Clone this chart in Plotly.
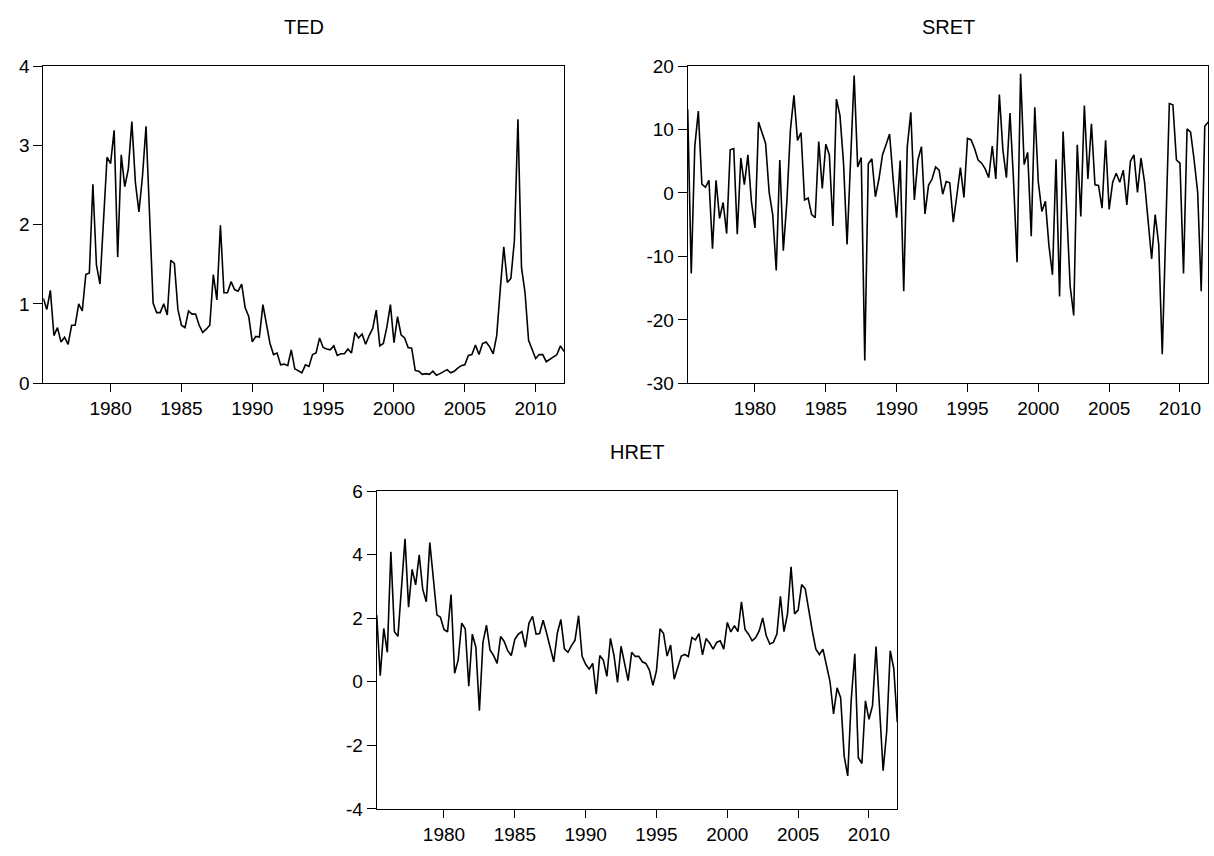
import pandas as pd
import plotly.graph_objects as go

# Quarterly observations 1975Q2 - 2012Q1
start_quarter = "1975Q2"
n_obs = 148

ted = [1.07, 0.93, 1.17, 0.60, 0.70, 0.52, 0.58, 0.49, 0.73, 0.73,
       1.00, 0.91, 1.37, 1.39, 2.51, 1.49, 1.25, 2.05, 2.85, 2.77,
       3.19, 1.59, 2.88, 2.48, 2.70, 3.30, 2.53, 2.16, 2.61, 3.24,
       2.04, 1.01, 0.89, 0.89, 1.00, 0.86, 1.55, 1.51, 0.93, 0.73,
       0.70, 0.91, 0.87, 0.87, 0.73, 0.64, 0.68, 0.73, 1.37, 1.05,
       1.99, 1.14, 1.14, 1.28, 1.18, 1.16, 1.25, 0.95, 0.84, 0.52,
       0.59, 0.58, 0.99, 0.75, 0.50, 0.36, 0.38, 0.23, 0.24, 0.22,
       0.42, 0.18, 0.16, 0.13, 0.23, 0.21, 0.36, 0.38, 0.57, 0.45,
       0.43, 0.42, 0.47, 0.35, 0.37, 0.37, 0.43, 0.38, 0.64, 0.57,
       0.62, 0.49, 0.60, 0.69, 0.92, 0.47, 0.50, 0.71, 0.99, 0.51,
       0.84, 0.61, 0.57, 0.45, 0.44, 0.16, 0.15, 0.11, 0.12, 0.11,
       0.15, 0.10, 0.12, 0.14, 0.17, 0.13, 0.15, 0.19, 0.22, 0.23,
       0.35, 0.36, 0.48, 0.36, 0.50, 0.52, 0.46, 0.37, 0.60, 1.18,
       1.72, 1.27, 1.32, 1.80, 3.33, 1.46, 1.14, 0.54, 0.42, 0.31,
       0.36, 0.36, 0.27, 0.30, 0.33, 0.36, 0.47, 0.40]

sret = [13.2, -12.7, 7.3, 12.9, 1.4, 0.9, 2.0, -8.8, 2.0, -4.0,
        -1.5, -6.4, 6.8, 7.0, -6.5, 5.5, 1.3, 6.0, -1.4, -5.5,
        11.2, 9.3, 7.8, 0.1, -3.4, -12.2, 5.2, -9.1, -1.4, 9.9,
        15.4, 8.3, 9.5, -1.1, -0.8, -3.4, -3.9, 8.1, 0.7, 7.7,
        6.0, -5.2, 14.8, 12.2, 4.7, -8.1, 5.0, 18.5, 4.1, 5.6,
        -26.4, 4.6, 5.4, -0.6, 2.2, 6.0, 7.6, 9.3, 2.2, -3.9,
        5.1, -15.5, 7.3, 12.7, -1.1, 5.2, 7.3, -3.3, 1.2, 2.2,
        4.1, 3.6, -0.2, 1.8, 1.6, -4.6, -0.4, 4.0, -0.7, 8.6,
        8.4, 7.0, 5.2, 4.7, 3.8, 2.4, 7.4, 2.2, 15.5, 6.8,
        2.4, 12.6, 2.0, -10.9, 18.8, 4.5, 6.4, -6.8, 13.5, 1.7,
        -2.9, -1.3, -8.3, -12.9, 5.3, -16.3, 9.7, -3.0, -14.7, -19.3,
        7.6, -3.7, 13.8, 2.2, 10.9, 1.3, 1.2, -2.4, 8.3, -2.6,
        1.7, 3.1, 1.7, 3.6, -1.9, 5.0, 6.0, 0.1, 5.5, 1.7,
        -4.0, -10.4, -3.4, -8.1, -25.4, -6.0, 14.1, 13.9, 5.2, 4.7,
        -12.7, 10.1, 9.6, 5.2, 0.1, -15.5, 10.5, 11.2]

hret = [2.10, 0.19, 1.68, 0.93, 4.09, 1.58, 1.43, 2.90, 4.50, 2.35,
        3.54, 3.05, 4.00, 2.91, 2.52, 4.38, 3.30, 2.11, 2.03, 1.65,
        1.57, 2.75, 0.27, 0.68, 1.85, 1.67, -0.14, 1.50, 1.09, -0.91,
        1.24, 1.78, 1.00, 0.83, 0.58, 1.43, 1.27, 0.98, 0.83, 1.34,
        1.50, 1.58, 1.09, 1.85, 2.06, 1.50, 1.52, 1.94, 1.52, 1.09,
        0.63, 1.53, 1.96, 1.04, 0.93, 1.14, 1.31, 2.08, 0.80, 0.55,
        0.40, 0.58, -0.39, 0.83, 0.68, 0.17, 1.37, 0.83, -0.02, 1.12,
        0.58, 0.04, 0.93, 0.80, 0.80, 0.63, 0.58, 0.37, -0.11, 0.35,
        1.67, 1.52, 0.81, 1.16, 0.08, 0.42, 0.81, 0.86, 0.80, 1.39,
        1.32, 1.52, 0.85, 1.36, 1.22, 1.03, 1.24, 1.29, 1.03, 1.87,
        1.57, 1.77, 1.58, 2.52, 1.65, 1.50, 1.29, 1.39, 1.60, 2.01,
        1.45, 1.19, 1.24, 1.50, 2.69, 1.58, 2.14, 3.62, 2.14, 2.26,
        3.06, 2.93, 2.21, 1.60, 1.03, 0.86, 1.03, 0.47, 0.01, -1.01,
        -0.19, -0.50, -2.34, -2.96, -0.55, 0.88, -2.39, -2.57, -0.60, -1.18,
        -0.75, 1.11, -0.75, -2.80, -1.57, 0.98, 0.42, -1.27]

x_ticks = [1980, 1985, 1990, 1995, 2000, 2005, 2010]
ted_ticks = [0, 1, 2, 3, 4]
sret_ticks = [-30, -20, -10, 0, 10, 20]
hret_ticks = [-4, -2, 0, 2, 4, 6]

periods = pd.period_range(start_quarter, periods=n_obs, freq="Q")
x_dec = [p.year + (p.quarter - 1) / 4 for p in periods]

W, H = 1214, 856
FONT = "Liberation Sans, Arial, sans-serif"
TICK_SIZE = 19
TITLE_SIZE = 20

fig = go.Figure()

panels = [
    ("TED", ted, "x", "y", (43.3, 564.0), (57.5, 382.5), [0, 4], ted_ticks),
    ("SRET", sret, "x2", "y2", (687.7, 1208.3), (57.5, 382.7), [-30, 20], sret_ticks),
    ("HRET", hret, "x3", "y3", (376.7, 897.3), (493.3, 819.0), [-4, 6], hret_ticks),
]

layout = dict(
    width=W, height=H, autosize=False,
    margin=dict(l=0, r=0, t=0, b=0),
    paper_bgcolor="white", plot_bgcolor="white",
    showlegend=False,
    font=dict(family=FONT, size=TICK_SIZE, color="black"),
    annotations=[],
)

for k, (name, vals, xa, ya, (px0, px1), (py0, py1), yr, yt) in enumerate(panels):
    fig.add_trace(go.Scatter(x=x_dec, y=vals, mode="lines",
                             line=dict(color="black", width=1.6),
                             xaxis=xa, yaxis=ya, name=name))
    sfx = "" if k == 0 else str(k + 1)
    layout["xaxis" + sfx] = dict(
        domain=[px0 / W, px1 / W], anchor="y" + sfx,
        range=[1975.25, 2012.0], tickvals=x_ticks,
        ticktext=[str(t) for t in x_ticks],
        showline=True, mirror=True, linecolor="black", linewidth=1,
        ticks="outside", ticklen=8, tickcolor="black", tickwidth=1,
        showgrid=False, zeroline=False,
        tickfont=dict(family=FONT, size=TICK_SIZE, color="black"),
    )
    layout["yaxis" + sfx] = dict(
        domain=[1 - py1 / H, 1 - py0 / H], anchor="x" + sfx,
        range=yr, tickvals=yt, ticktext=[str(t) for t in yt],
        showline=True, mirror=True, linecolor="black", linewidth=1,
        ticks="outside", ticklen=9, tickcolor="black", tickwidth=1,
        showgrid=False, zeroline=False,
        tickfont=dict(family=FONT, size=TICK_SIZE, color="black"),
    )
    layout["annotations"].append(dict(
        text=name, x=(px0 + px1) / 2 / W, y=1 - (py0 - 40) / H,
        xref="paper", yref="paper", xanchor="center", yanchor="middle",
        showarrow=False, font=dict(family=FONT, size=TITLE_SIZE, color="black"),
    ))

fig.update_layout(**layout)
fig.write_html(
    "out.html",
    config={"displayModeBar": False},
    post_script="document.body.style.margin='0px';document.body.style.overflow='hidden';",
)
